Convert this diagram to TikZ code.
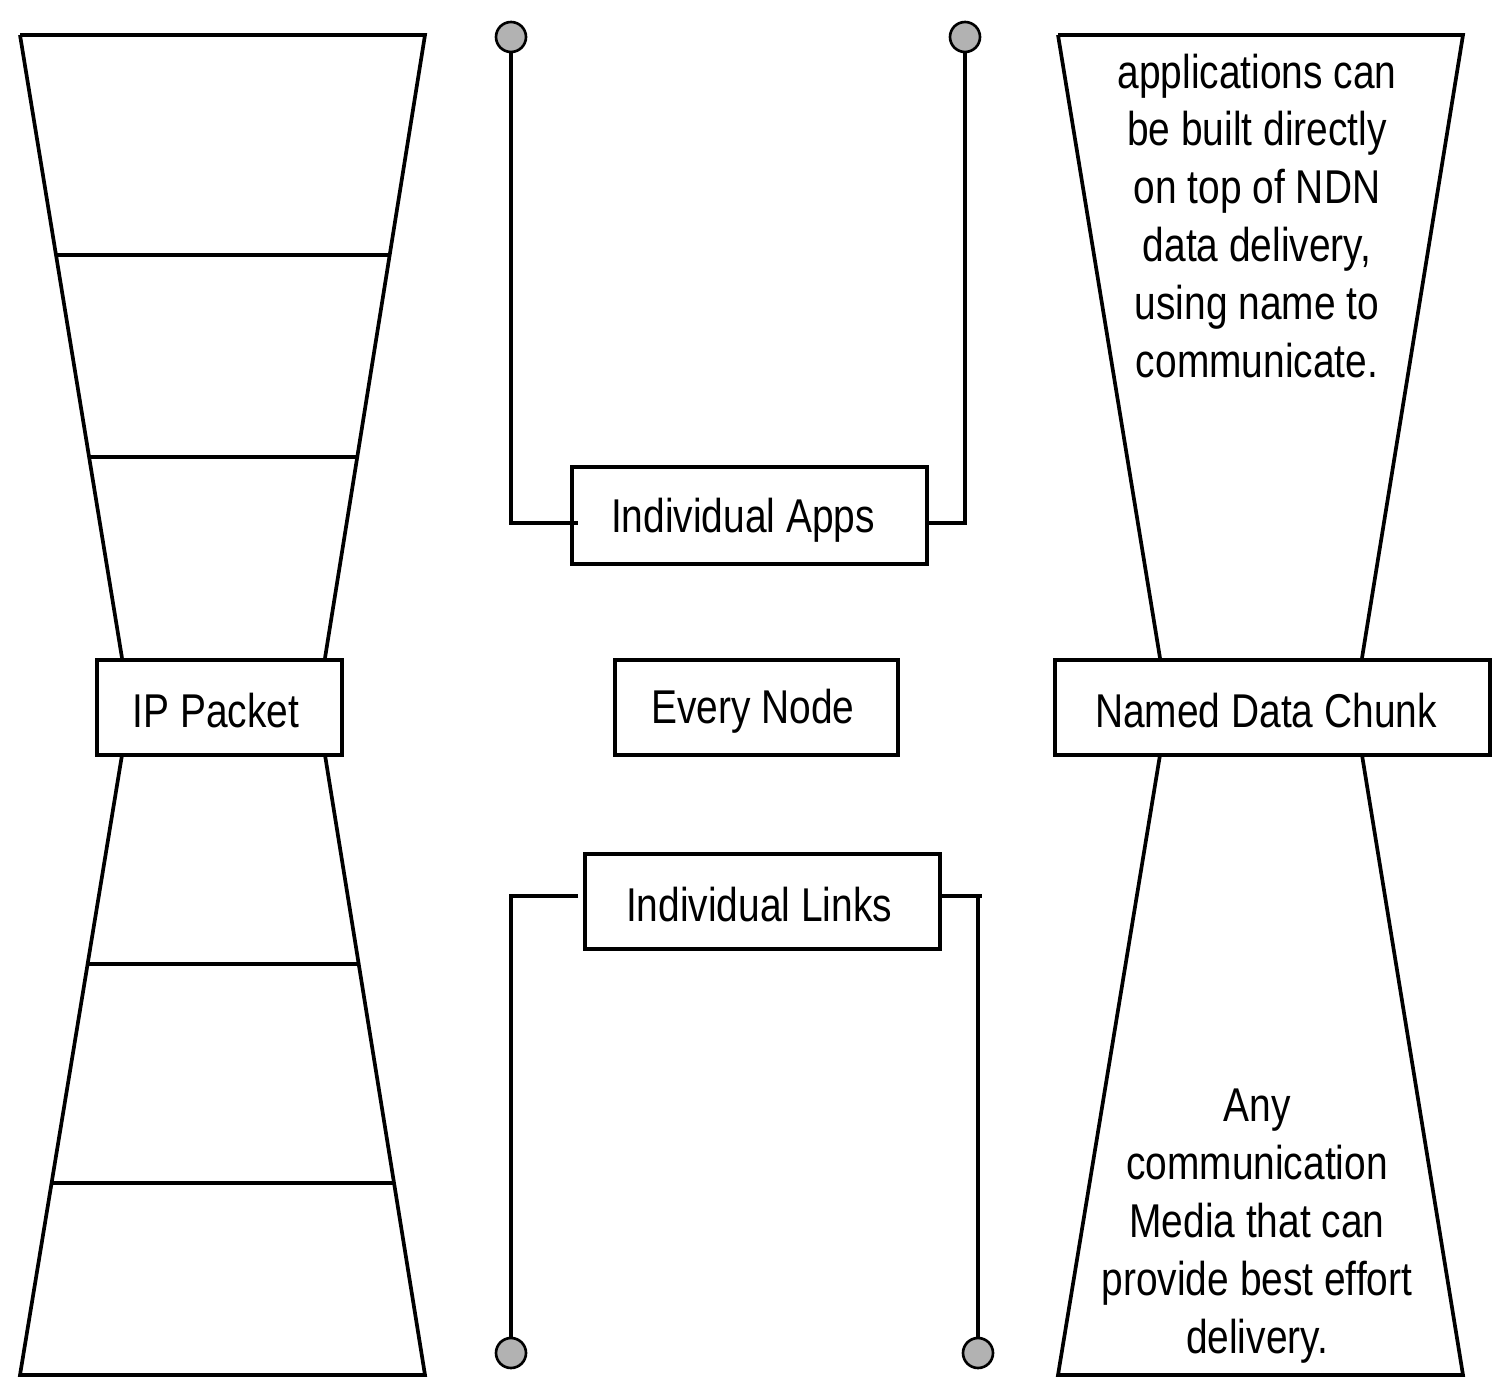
\documentclass[tikz,border=0pt]{standalone}
\usepackage{fontspec}
\setmainfont[FakeStretch=0.82]{Liberation Sans}
\begin{document}
\begin{tikzpicture}[x=0.02cm,y=-0.02cm,line width=2.1pt,
 box/.style={draw,rectangle,inner sep=0pt,fill=white},
 lbl/.style={font=\fontsize{27}{33}\selectfont},
 txt/.style={font=\fontsize{27}{33}\selectfont,align=center},
 pin/.style={circle,draw,fill=gray!60,minimum size=30*0.02cm,inner sep=0pt,line width=1.5pt}]
\useasboundingbox (0,0) rectangle (1508,1399);
% left hourglass
\draw (20,35) -- (425,35) -- (325,658) (122,658) -- (20,35);
\draw (57,255) -- (390,255) (89,457) -- (356,457);
\draw (122,755) -- (20,1375) -- (425,1375) -- (325,755);
\draw (88,964) -- (358,964) (52,1183) -- (393,1183);
\node[box,minimum width=245*0.02cm,minimum height=95*0.02cm] (ip) at (219.5,707.5) {};
\node[lbl] at (216,711) {IP Packet};
% right hourglass
\draw (1058,35) -- (1463,35) -- (1362,658) (1160,658) -- (1058,35);
\draw (1160,755) -- (1058,1375) -- (1463,1375) -- (1362,755);
\node[box,minimum width=435*0.02cm,minimum height=95*0.02cm] (ndc) at (1272.5,707.5) {};
\node[lbl] at (1266,711) {Named Data Chunk};
\node[txt] (top) at (1257,216) {applications can\\be built directly\\on top of NDN\\data delivery,\\using name to\\communicate.};
\node[txt] (bot) at (1257,1226) {Any\\communication\\Media that can\\provide best effort\\delivery.};
% middle
\node[box,minimum width=283*0.02cm,minimum height=95*0.02cm] (every) at (756.5,707.5) {};
\node[lbl] at (753,711) {Every Node};
\node[box,minimum width=355*0.02cm,minimum height=97*0.02cm] (apps) at (749.5,515.5) {};
\node[lbl] at (743,520) {Individual Apps};
\node[box,minimum width=355*0.02cm,minimum height=95*0.02cm] (links) at (762.5,901.5) {};
\node[lbl] at (759,905) {Individual Links};
\node[pin] (p1) at (511,37) {};
\node[pin] (p2) at (965,37) {};
\node[pin] (p3) at (511,1353) {};
\node[pin] (p4) at (978,1353) {};
\coordinate (a1) at (578,523);
\coordinate (l1) at (578,896);
\coordinate (l2) at (982,896);
\draw (p1) |- (a1);
\draw (p2) |- (apps.east |- 0,523);
\draw (l1) -| (p3);
\draw (links.east |- 0,896) -- (l2) (978,896) -- (p4);
\end{tikzpicture}
\end{document}
